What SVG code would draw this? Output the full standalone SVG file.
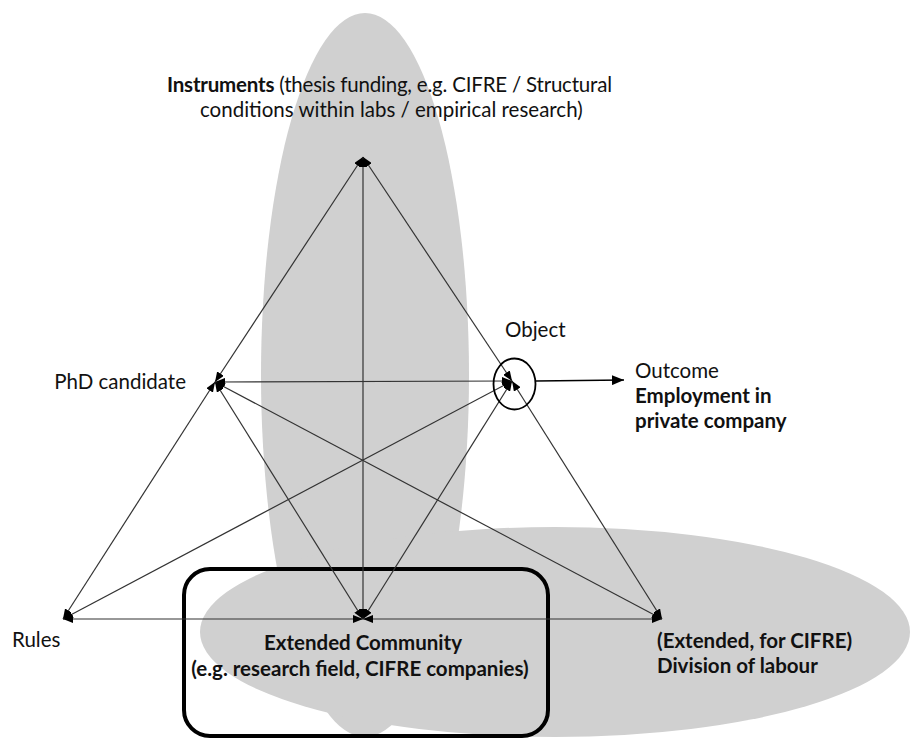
<svg xmlns="http://www.w3.org/2000/svg" width="910" height="740" viewBox="0 0 910 740">
<defs>
<style>
.bg{fill:#d0d0d0;stroke:none}
.t{font-family:Lato,"Liberation Sans",sans-serif;font-size:20.5px;fill:#111}
.b{font-weight:bold}
.e{stroke:#333;stroke-width:1.2;fill:none;marker-start:url(#ah);marker-end:url(#ah)}
</style>
<marker id="ah" viewBox="0 0 10 8" refX="10" refY="4" markerWidth="10" markerHeight="8" markerUnits="userSpaceOnUse" orient="auto-start-reverse">
<path d="M0,0 L10,4 L0,8 z" fill="#000"/>
</marker>
<marker id="ah2" viewBox="0 0 12 10" refX="12" refY="5" markerWidth="12" markerHeight="10" markerUnits="userSpaceOnUse" orient="auto">
<path d="M0,0 L12,5 L0,10 z" fill="#000"/>
</marker>
</defs>
<g id="background">
<ellipse class="bg" cx="365" cy="375" rx="104" ry="362"/>
<ellipse class="bg" cx="555" cy="632" rx="355" ry="105"/>
</g>
<g id="community-frame">
<rect x="184" y="569" width="364" height="167" rx="26" ry="26" fill="none" stroke="#000" stroke-width="4"/>
</g>
<g id="connectors">
<line class="e" x1="363" y1="157" x2="215" y2="382"/>
<line class="e" x1="363" y1="157" x2="363" y2="619"/>
<line class="e" x1="363" y1="157" x2="512" y2="381"/>
<line class="e" x1="215" y1="382" x2="512" y2="381"/>
<line class="e" x1="215" y1="382" x2="63" y2="619"/>
<line class="e" x1="215" y1="382" x2="363" y2="619"/>
<line class="e" x1="215" y1="382" x2="662" y2="619"/>
<line class="e" x1="512" y1="381" x2="63" y2="619"/>
<line class="e" x1="512" y1="381" x2="363" y2="619"/>
<line class="e" x1="512" y1="381" x2="662" y2="619"/>
<line class="e" x1="63" y1="619" x2="363" y2="619"/>
<line class="e" x1="363" y1="619" x2="662" y2="619"/>
<line x1="536" y1="381" x2="624" y2="380" stroke="#000" stroke-width="1.3" marker-end="url(#ah2)"/>
</g>
<g id="instruments">
<text class="t" x="167" y="92" textLength="445"><tspan class="b">Instruments</tspan> (thesis funding, e.g. CIFRE / Structural</text>
<text class="t" x="200" y="117">conditions within labs / empirical research)</text>
</g>
<g id="phd-candidate">
<text class="t" x="186" y="389" text-anchor="end">PhD candidate</text>
</g>
<g id="object">
<text class="t" x="505" y="337">Object</text>
<ellipse cx="514.5" cy="384" rx="21" ry="25.5" fill="none" stroke="#000" stroke-width="1.8"/>
</g>
<g id="outcome">
<text class="t" x="635" y="378">Outcome</text>
<text class="t b" x="635" y="403">Employment in</text>
<text class="t b" x="635" y="428">private company</text>
</g>
<g id="rules">
<text class="t" x="12" y="647">Rules</text>
</g>
<g id="extended-community">
<text class="t b" x="363" y="650" text-anchor="middle">Extended Community</text>
<text class="t b" x="360" y="676" text-anchor="middle">(e.g. research field, CIFRE companies)</text>
</g>
<g id="division-of-labour">
<text class="t b" x="657" y="648">(Extended, for CIFRE)</text>
<text class="t b" x="657" y="673">Division of labour</text>
</g>
</svg>
